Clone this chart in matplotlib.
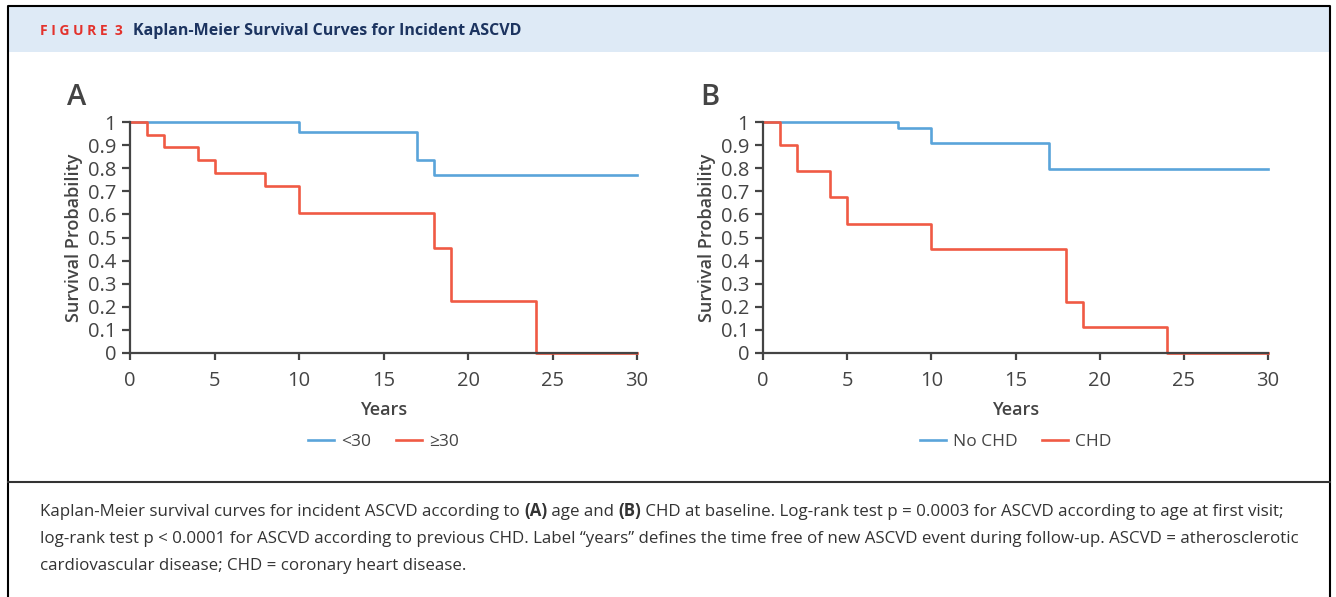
import matplotlib.pyplot as plt
import numpy as np

W, H = 1336, 597

# panel A: age
a_young_t = [0, 10, 17, 18, 30]
a_young_s = [1.0, 0.955, 0.835, 0.77, 0.77]
a_old_t = [0, 1, 2, 4, 5, 8, 10, 18, 19, 24, 30]
a_old_s = [1.0, 0.945, 0.89, 0.835, 0.78, 0.725, 0.605, 0.455, 0.227, 0.0, 0.0]

# panel B: CHD at baseline
b_nochd_t = [0, 8, 10, 17, 30]
b_nochd_s = [1.0, 0.975, 0.907, 0.797, 0.797]
b_chd_t = [0, 1, 2, 4, 5, 10, 18, 19, 24, 30]
b_chd_s = [1.0, 0.9, 0.79, 0.677, 0.56, 0.45, 0.222, 0.111, 0.0, 0.0]

xticks = [0, 5, 10, 15, 20, 25, 30]
yticks = [0, 0.1, 0.2, 0.3, 0.4, 0.5, 0.6, 0.7, 0.8, 0.9, 1]
ylabels = ["0", "0.1", "0.2", "0.3", "0.4", "0.5", "0.6", "0.7", "0.8", "0.9", "1"]

blue = "#5AA4DA"
red = "#F05A44"
grey = "#444444"
font = "Open Sans"

plt.rcParams["font.family"] = [font, "DejaVu Sans"]

fig = plt.figure(figsize=(W / 100, H / 100), dpi=100)
renderer = fig.canvas.get_renderer()


def px(x0, y0, x1, y1):
    return [x0 / W, 1 - y1 / H, (x1 - x0) / W, (y1 - y0) / H]


# frame, header band, separator
bg = fig.add_axes([0, 0, 1, 1])
bg.set_xlim(0, W)
bg.set_ylim(H, 0)
bg.axis("off")
bg.add_patch(plt.Rectangle((8, 7), 1322, 45, color="#DEEAF6", lw=0))
bg.plot([8, 8, 1330, 1330], [H + 5, 6, 6, H + 5], color="black", lw=1.5)
bg.plot([8, 1330], [482, 482], color="#333333", lw=1.5)

bg.text(40, 31, "F I G U R E  3", color="#E3322C", fontsize=10, fontweight="bold",
        va="center", ha="left")
bg.text(133, 31, "Kaplan-Meier Survival Curves for Incident ASCVD",
        va="center", ha="left", color="#1C3460", fontsize=11.5,
        fontweight="bold")


def panel(box, series, letter):
    ax = fig.add_axes(px(*box))
    for tt, ss, c, lab in series:
        ax.step(tt, ss, where="post", color=c, lw=1.9, label=lab, clip_on=False)
    ax.set_xlim(0, 30)
    ax.set_ylim(0, 1)
    ax.set_xticks(xticks)
    ax.set_yticks(yticks)
    ax.set_yticklabels(ylabels)
    for s in ["top", "right"]:
        ax.spines[s].set_visible(False)
    for s in ["left", "bottom"]:
        ax.spines[s].set_color(grey)
        ax.spines[s].set_linewidth(1.6)
    ax.tick_params(colors=grey, labelcolor=grey, labelsize=14.5, width=1.6,
                   direction="out")
    ax.tick_params(axis="y", length=6, pad=4)
    ax.tick_params(axis="x", length=5, pad=8)
    ax.set_xlabel("Years", fontsize=13, color=grey, labelpad=7,
                  fontweight="semibold")
    ax.set_ylabel("Survival Probability", fontsize=13, color=grey, labelpad=3,
                  fontweight="semibold")
    ax.text(-0.125, 1.045, letter, transform=ax.transAxes, fontsize=21,
            color=grey, ha="left", va="bottom", fontweight="semibold")
    ax.legend(loc="center", bbox_to_anchor=(0.5, -0.385), ncol=2,
              frameon=False, fontsize=12.5, handlelength=1.5,
              handletextpad=0.4, columnspacing=1.4, labelcolor=grey)
    return ax


panel((130, 122, 637, 353),
      [(a_young_t, a_young_s, blue, "<30"), (a_old_t, a_old_s, red, "≥30")],
      "A")
panel((763, 122, 1268, 353),
      [(b_nochd_t, b_nochd_s, blue, "No CHD"), (b_chd_t, b_chd_s, red, "CHD")],
      "B")

# caption
cap_kw = dict(fontsize=12.2, color="#333333", va="baseline", ha="left")
lines = [
    [("Kaplan-Meier survival curves for incident ASCVD according to ", "normal"),
     ("(A)", "bold"), (" age and ", "normal"), ("(B)", "bold"),
     (" CHD at baseline. Log-rank test p = 0.0003 for ASCVD according to age at first visit;", "normal")],
    [("log-rank test p < 0.0001 for ASCVD according to previous CHD. Label \u201cyears\u201d defines the time free of new ASCVD event during follow-up. ASCVD = atherosclerotic", "normal")],
    [("cardiovascular disease; CHD = coronary heart disease.", "normal")],
]
for i, parts in enumerate(lines):
    y = 516 + 27 * i
    x = 40
    for txt, wt in parts:
        tobj = bg.text(x, y, txt, fontweight=wt, **cap_kw)
        bb = tobj.get_window_extent(renderer=renderer)
        x += bb.width

fig.savefig("out.png", dpi=100)
